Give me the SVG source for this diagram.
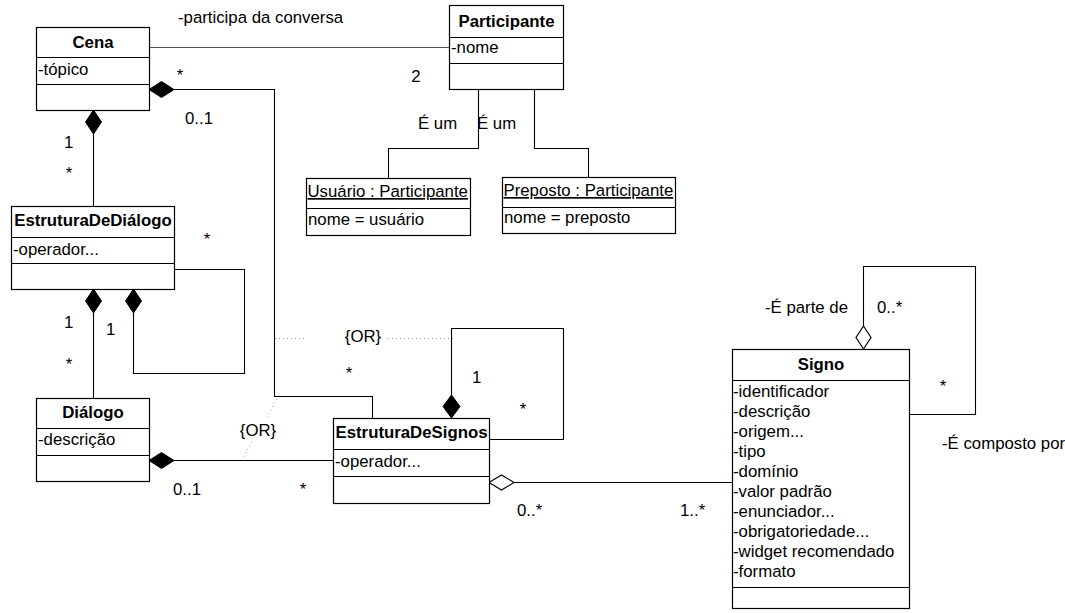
<svg xmlns="http://www.w3.org/2000/svg" width="1065" height="613" viewBox="0 0 1065 613">
  <defs>
    <style>
      text { font-family: "Liberation Sans", Arial, sans-serif; font-size: 16.8px; fill: #000; }
      .title { font-weight: bold; text-anchor: middle; }
      .obj { text-decoration: underline; }
      .box { fill: #fff; stroke: #000; stroke-width: 1.2; }
      .sep { stroke: #000; stroke-width: 1.2; }
      .edge { fill: none; stroke: #000; stroke-width: 1.1; }
      .gray { fill: none; stroke: #555; stroke-width: 1.1; }
      .dot { fill: none; stroke: #999; stroke-width: 1; stroke-dasharray: 1 3; }
      .comp { fill: #000; stroke: #000; stroke-width: 1; }
      .aggr { fill: #fff; stroke: #000; stroke-width: 1.2; }
    </style>
  </defs>

  <rect width="1065" height="613" fill="#fff"/>

  <!-- connectors -->
  <g id="connectors">
    <!-- Cena - Participante association -->
    <line class="gray" x1="149" y1="47.5" x2="449" y2="47.5"/>
    <!-- Participante instances -->
    <polyline class="edge" points="478.5,89 478.5,148.5 388.5,148.5 388.5,178"/>
    <polyline class="edge" points="534.5,89 534.5,148.5 588.5,148.5 588.5,177"/>
    <!-- Cena composes EstruturaDeDiálogo -->
    <line class="edge" x1="93.5" y1="134" x2="93.5" y2="206"/>
    <polygon class="comp" points="93.5,110 101.5,122 93.5,134 85.5,122"/>
    <!-- Cena composes EstruturaDeSignos -->
    <polyline class="edge" points="174,89.5 274.5,89.5 274.5,396.5 372.5,396.5 372.5,418"/>
    <polygon class="comp" points="149,89.5 161.5,81.5 174,89.5 161.5,97.5"/>
    <!-- EstruturaDeDiálogo composes Diálogo -->
    <line class="edge" x1="93.5" y1="313" x2="93.5" y2="398"/>
    <polygon class="comp" points="93.5,289 101.5,301 93.5,313 85.5,301"/>
    <!-- EstruturaDeDiálogo self composition -->
    <polyline class="edge" points="174,269.5 244.5,269.5 244.5,373.5 133.5,373.5 133.5,313"/>
    <polygon class="comp" points="133.5,289 141.5,301 133.5,313 125.5,301"/>
    <!-- Diálogo composes EstruturaDeSignos -->
    <line class="edge" x1="174" y1="460.5" x2="333" y2="460.5"/>
    <polygon class="comp" points="149,460.5 161.5,452.5 174,460.5 161.5,468.5"/>
    <!-- EstruturaDeSignos self composition -->
    <polyline class="edge" points="451.5,395 451.5,328.5 563.5,328.5 563.5,439.5 489,439.5"/>
    <polygon class="comp" points="451.5,418 443,406.5 451.5,395 460,406.5"/>
    <!-- EstruturaDeSignos aggregates Signo -->
    <line class="edge" x1="514" y1="482.5" x2="732" y2="482.5"/>
    <polygon class="aggr" points="489,482.5 501.5,475 514,482.5 501.5,490"/>
    <!-- Signo self aggregation -->
    <polyline class="edge" points="863.5,326 863.5,266.5 975.5,266.5 975.5,414.5 909,414.5"/>
    <polygon class="aggr" points="863.5,349 856,337.5 863.5,326 871,337.5"/>
    <!-- {OR} constraints -->
    <line class="dot" x1="275" y1="338.5" x2="307" y2="338.5"/>
    <line class="dot" x1="388" y1="338.5" x2="453" y2="338.5"/>
    <line class="dot" x1="277" y1="399" x2="267" y2="417"/>
    <line class="dot" x1="252" y1="442" x2="242" y2="459"/>

    <!-- labels -->
    <text x="178" y="23">-participa da conversa</text>
    <text x="416" y="82" text-anchor="middle">2</text>
    <text x="418" y="129">É um</text>
    <text x="477" y="129">É um</text>
    <text x="180" y="81" text-anchor="middle">*</text>
    <text x="185" y="124">0..1</text>
    <text x="64" y="148">1</text>
    <text x="69" y="179" text-anchor="middle">*</text>
    <text x="207" y="245" text-anchor="middle">*</text>
    <text x="64" y="328">1</text>
    <text x="106" y="335">1</text>
    <text x="69" y="370" text-anchor="middle">*</text>
    <text x="363" y="342" text-anchor="middle">{OR}</text>
    <text x="349" y="379" text-anchor="middle">*</text>
    <text x="258" y="436" text-anchor="middle">{OR}</text>
    <text x="472" y="383">1</text>
    <text x="523" y="415" text-anchor="middle">*</text>
    <text x="173" y="495">0..1</text>
    <text x="303" y="495" text-anchor="middle">*</text>
    <text x="517" y="516">0..*</text>
    <text x="680" y="516">1..*</text>
    <text x="765" y="313">-É parte de</text>
    <text x="877" y="313">0..*</text>
    <text x="943" y="392" text-anchor="middle">*</text>
    <text x="942" y="449">-É composto por</text>
  </g>

  <!-- Cena -->
  <g id="cena">
    <rect class="box" x="36.5" y="27.5" width="113" height="83"/>
    <line class="sep" x1="36.5" y1="57.5" x2="149.5" y2="57.5"/>
    <line class="sep" x1="36.5" y1="84.5" x2="149.5" y2="84.5"/>
    <text class="title" x="93" y="48">Cena</text>
    <text x="38" y="75">-tópico</text>
  </g>

  <!-- Participante -->
  <g id="participante">
    <rect class="box" x="449.5" y="5.5" width="114" height="84"/>
    <line class="sep" x1="449.5" y1="37.5" x2="563.5" y2="37.5"/>
    <line class="sep" x1="449.5" y1="63.5" x2="563.5" y2="63.5"/>
    <text class="title" x="506.5" y="27">Participante</text>
    <text x="451" y="53">-nome</text>
  </g>

  <!-- Usuário : Participante -->
  <g id="usuario">
    <rect class="box" x="306.5" y="178.5" width="164" height="57"/>
    <line class="sep" x1="306.5" y1="208.5" x2="470.5" y2="208.5"/>
    <text class="obj" x="307.5" y="197">Usuário : Participante</text>
    <text x="308" y="225">nome = usuário</text>
  </g>

  <!-- Preposto : Participante -->
  <g id="preposto">
    <rect class="box" x="502.5" y="177.5" width="173" height="56"/>
    <line class="sep" x1="502.5" y1="207.5" x2="675.5" y2="207.5"/>
    <text class="obj" x="503.5" y="196">Preposto : Participante</text>
    <text x="504" y="223">nome = preposto</text>
  </g>

  <!-- EstruturaDeDiálogo -->
  <g id="estrutura-dialogo">
    <rect class="box" x="11.5" y="206.5" width="163" height="83"/>
    <line class="sep" x1="11.5" y1="237.5" x2="174.5" y2="237.5"/>
    <line class="sep" x1="11.5" y1="263.5" x2="174.5" y2="263.5"/>
    <text class="title" x="93" y="226">EstruturaDeDiálogo</text>
    <text x="13" y="255">-operador...</text>
  </g>

  <!-- Diálogo -->
  <g id="dialogo">
    <rect class="box" x="36.5" y="398.5" width="113" height="83"/>
    <line class="sep" x1="36.5" y1="428.5" x2="149.5" y2="428.5"/>
    <line class="sep" x1="36.5" y1="455.5" x2="149.5" y2="455.5"/>
    <text class="title" x="93" y="418">Diálogo</text>
    <text x="38" y="445">-descrição</text>
  </g>

  <!-- EstruturaDeSignos -->
  <g id="estrutura-signos">
    <rect class="box" x="333.5" y="418.5" width="156" height="85"/>
    <line class="sep" x1="333.5" y1="449.5" x2="489.5" y2="449.5"/>
    <line class="sep" x1="333.5" y1="476.5" x2="489.5" y2="476.5"/>
    <text class="title" x="411.5" y="438">EstruturaDeSignos</text>
    <text x="335" y="467">-operador...</text>
  </g>

  <!-- Signo -->
  <g id="signo">
    <rect class="box" x="732.5" y="349.5" width="177" height="259"/>
    <line class="sep" x1="732.5" y1="380.5" x2="909.5" y2="380.5"/>
    <line class="sep" x1="732.5" y1="587.5" x2="909.5" y2="587.5"/>
    <text class="title" x="821" y="370">Signo</text>
    <text x="733" y="397">-identificador</text>
    <text x="733" y="417">-descrição</text>
    <text x="733" y="437">-origem...</text>
    <text x="733" y="457">-tipo</text>
    <text x="733" y="477">-domínio</text>
    <text x="733" y="497">-valor padrão</text>
    <text x="733" y="517">-enunciador...</text>
    <text x="733" y="537">-obrigatoriedade...</text>
    <text x="733" y="557">-widget recomendado</text>
    <text x="733" y="577">-formato</text>
  </g>
</svg>
